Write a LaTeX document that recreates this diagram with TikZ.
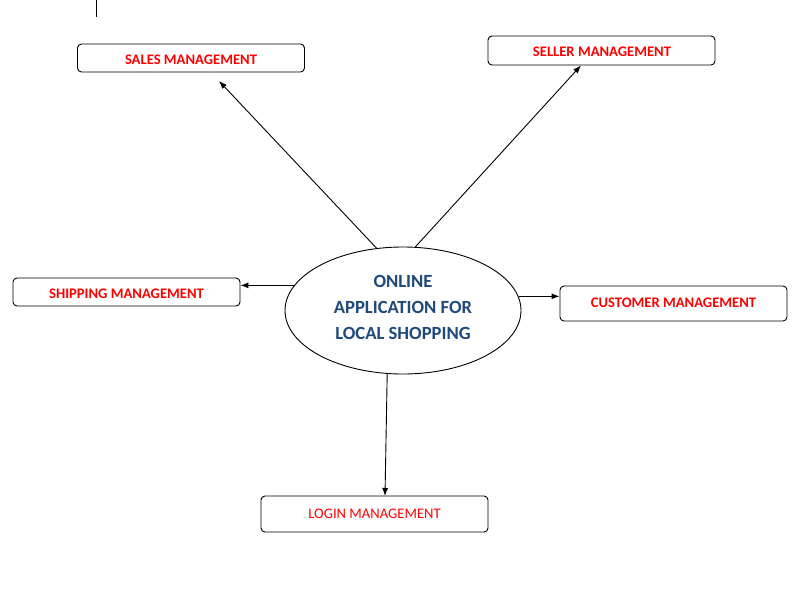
\documentclass[tikz,border=0pt]{standalone}
\usepackage{fontspec}
\setmainfont{Carlito}
\usetikzlibrary{shapes.geometric,arrows.meta}
\definecolor{boxred}{HTML}{FF0000}
\definecolor{hubblue}{HTML}{1F497D}
\begin{document}
\begin{tikzpicture}[x=1pt,y=-1pt,
  module/.style={draw=black,line width=0.9pt,rounded corners=4pt,minimum width=227pt,inner sep=0pt,
    text=boxred,font=\fontsize{14.6}{16}\selectfont\bfseries},
  modtext/.style={text=boxred,inner sep=0pt,font=\fontsize{14.6}{16}\selectfont\bfseries},
  hub/.style={draw=black,line width=0.9pt,ellipse,minimum width=236pt,minimum height=127pt,inner sep=0pt},
  hubtext/.style={text=hubblue,align=center,inner sep=0pt,font=\fontsize{18.6}{26}\selectfont\bfseries},
  link/.style={line width=0.9pt,-{Latex[length=8pt,width=6pt]}}]
\useasboundingbox[fill=white] (0,0) rectangle (792,597);
\coordinate (mt) at (96,0);
\coordinate (mb) at (96,17);
\draw[line width=0.9pt] (mt) -- (mb);
\node[module,minimum height=28pt] (sales) at (191,58) {};
\node[modtext] (salest) at (191,59.5) {SALES MANAGEMENT};
\node[module,minimum height=29pt] (seller) at (601.5,50.5) {};
\node[modtext] (sellert) at (602,52) {SELLER MANAGEMENT};
\node[module,minimum height=28pt] (ship) at (126.5,292) {};
\node[modtext] (shipt) at (126.5,293.5) {SHIPPING MANAGEMENT};
\node[module,minimum height=35pt] (cust) at (673.5,303.5) {};
\node[modtext] (custt) at (673.5,302.5) {CUSTOMER MANAGEMENT};
\node[module,minimum height=36pt] (login) at (374.5,514) {};
\node[modtext,font=\fontsize{14.6}{16}\selectfont] (logint) at (374.5,513.5) {LOGIN MANAGEMENT};
\node[hub] (hub) at (403,310.5) {};
\node[hubtext] (hubt) at (403,307.5) {ONLINE\\APPLICATION FOR\\LOCAL SHOPPING};
\coordinate (salesend) at (219,81);
\draw[link] (hub.113) -- (salesend);
\draw[link] (hub.79.3) -- (seller.south -| 581,0);
\draw[link] (hub.167.4) -- (ship.east |- hub.167.4);
\draw[link] (hub.7.5) -- (cust.west |- hub.7.5);
\draw[link] (hub.256) -- (385,496);
\end{tikzpicture}
\end{document}
